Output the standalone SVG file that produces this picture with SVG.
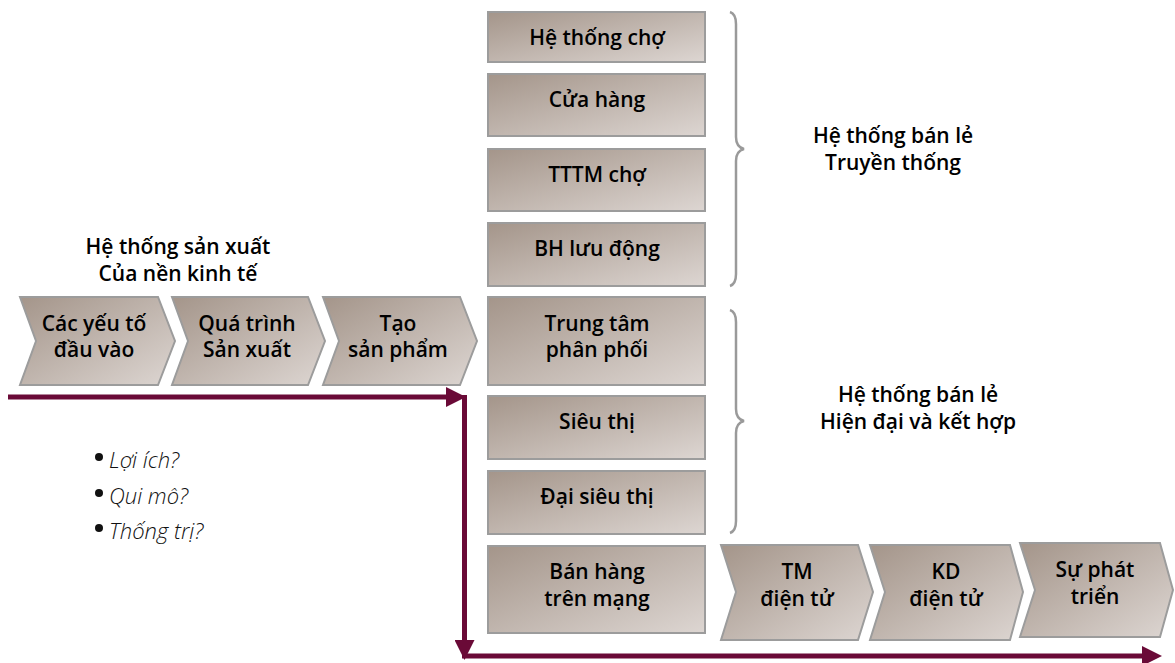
<svg xmlns="http://www.w3.org/2000/svg" width="1175" height="663" viewBox="0 0 1175 663">
<defs>
<linearGradient id="g" x1="0" y1="0" x2="1" y2="1">
<stop offset="0" stop-color="#a4958a"/>
<stop offset="1" stop-color="#ddd6d2"/>
</linearGradient>
<marker id="ah" markerUnits="userSpaceOnUse" markerWidth="20" markerHeight="20" viewBox="0 0 20 20" refX="0" refY="10" orient="auto">
<path d="M0,0 L20,10 L0,20 z" fill="#6a0a37"/>
</marker>
</defs>
<style>
.n{fill:url(#g);stroke:#9c9c9c;stroke-width:2}
.t{font-family:"Open Sans","Noto Sans",sans-serif;font-weight:600;font-size:21px;fill:#000;text-anchor:middle}
.i{font-family:"Open Sans","Noto Sans",sans-serif;font-weight:300;font-style:italic;font-size:22px;fill:#111}
.c{fill:none;stroke:#6a0a37;stroke-width:5}
.b{fill:none;stroke:#9a9a9a;stroke-width:2.5}
</style>
<rect width="1175" height="663" fill="#fff"/>

<g id="label-sanxuat">
<text class="t" x="178" y="254">Hệ thống sản xuất</text>
<text class="t" x="178" y="281">Của nền kinh tế</text>
</g>

<g id="chev-dauvao">
<polygon class="n" points="20,297 158,297 175,341 158,385 20,385 36,341"/>
<text class="t" x="94" y="331">Các yếu tố</text>
<text class="t" x="94" y="357">đầu vào</text>
</g>
<g id="chev-quatrinh">
<polygon class="n" points="172,297 308,297 325,341 308,385 172,385 188,341"/>
<text class="t" x="247" y="331">Quá trình</text>
<text class="t" x="247" y="357">Sản xuất</text>
</g>
<g id="chev-taosp">
<polygon class="n" points="323,297 460,297 477,341 460,385 323,385 339,341"/>
<text class="t" x="398" y="331">Tạo</text>
<text class="t" x="398" y="357">sản phẩm</text>
</g>

<g id="box-hethongcho">
<rect class="n" x="488" y="12" width="217" height="50"/>
<text class="t" x="597" y="45">Hệ thống chợ</text>
</g>
<g id="box-cuahang">
<rect class="n" x="488" y="74" width="217" height="62"/>
<text class="t" x="597" y="107">Cửa hàng</text>
</g>
<g id="box-tttm">
<rect class="n" x="488" y="149" width="217" height="62"/>
<text class="t" x="597" y="182">TTTM chợ</text>
</g>
<g id="box-bhluudong">
<rect class="n" x="488" y="223" width="217" height="63"/>
<text class="t" x="597" y="256">BH lưu động</text>
</g>
<g id="box-trungtam">
<rect class="n" x="488" y="297" width="217" height="88"/>
<text class="t" x="597" y="331">Trung tâm</text>
<text class="t" x="597" y="357">phân phối</text>
</g>
<g id="box-sieuthi">
<rect class="n" x="488" y="396" width="217" height="63"/>
<text class="t" x="597" y="429">Siêu thị</text>
</g>
<g id="box-daisieuthi">
<rect class="n" x="488" y="471" width="217" height="63"/>
<text class="t" x="597" y="504">Đại siêu thị</text>
</g>
<g id="box-banhang">
<rect class="n" x="488" y="546" width="217" height="87"/>
<text class="t" x="597" y="579">Bán hàng</text>
<text class="t" x="597" y="606">trên mạng</text>
</g>

<g id="chev-tm">
<polygon class="n" points="721,545 858,545 873,592 858,640 721,640 736,592"/>
<text class="t" x="797" y="579">TM</text>
<text class="t" x="797" y="606">điện tử</text>
</g>
<g id="chev-kd">
<polygon class="n" points="870,545 1010,545 1023,592 1010,640 870,640 885,592"/>
<text class="t" x="946" y="579">KD</text>
<text class="t" x="946" y="606">điện tử</text>
</g>
<g id="chev-phattrien">
<polygon class="n" points="1020,543 1160,543 1173,590 1160,637 1020,637 1035,590"/>
<text class="t" x="1095" y="577">Sự phát</text>
<text class="t" x="1095" y="604">triển</text>
</g>

<g id="brace-truyenthong">
<path class="b" d="M730,12 Q736,14 736,24 V137 Q736,147 744,149 Q736,151 736,161 V274 Q736,284 730,286"/>
<text class="t" x="893" y="143">Hệ thống bán lẻ</text>
<text class="t" x="893" y="170">Truyền thống</text>
</g>
<g id="brace-hiendai">
<path class="b" d="M730,310 Q736,312 736,322 V409 Q736,419 744,421 Q736,423 736,433 V521 Q736,531 730,533"/>
<text class="t" x="918" y="402">Hệ thống bán lẻ</text>
<text class="t" x="918" y="429">Hiện đại và kết hợp</text>
</g>

<g id="questions">
<circle cx="99" cy="457" r="4" fill="#111"/>
<text class="i" x="109" y="468">Lợi ích?</text>
<circle cx="99" cy="493" r="4" fill="#111"/>
<text class="i" x="109" y="504">Qui mô?</text>
<circle cx="99" cy="528" r="4" fill="#111"/>
<text class="i" x="109" y="539">Thống trị?</text>
</g>

<g id="connectors">
<path class="c" d="M8,397 H446" marker-end="url(#ah)"/>
<path class="c" d="M464.5,395 V640" marker-end="url(#ah)"/>
<path class="c" d="M462,656 H1142" marker-end="url(#ah)"/>
</g>
</svg>
